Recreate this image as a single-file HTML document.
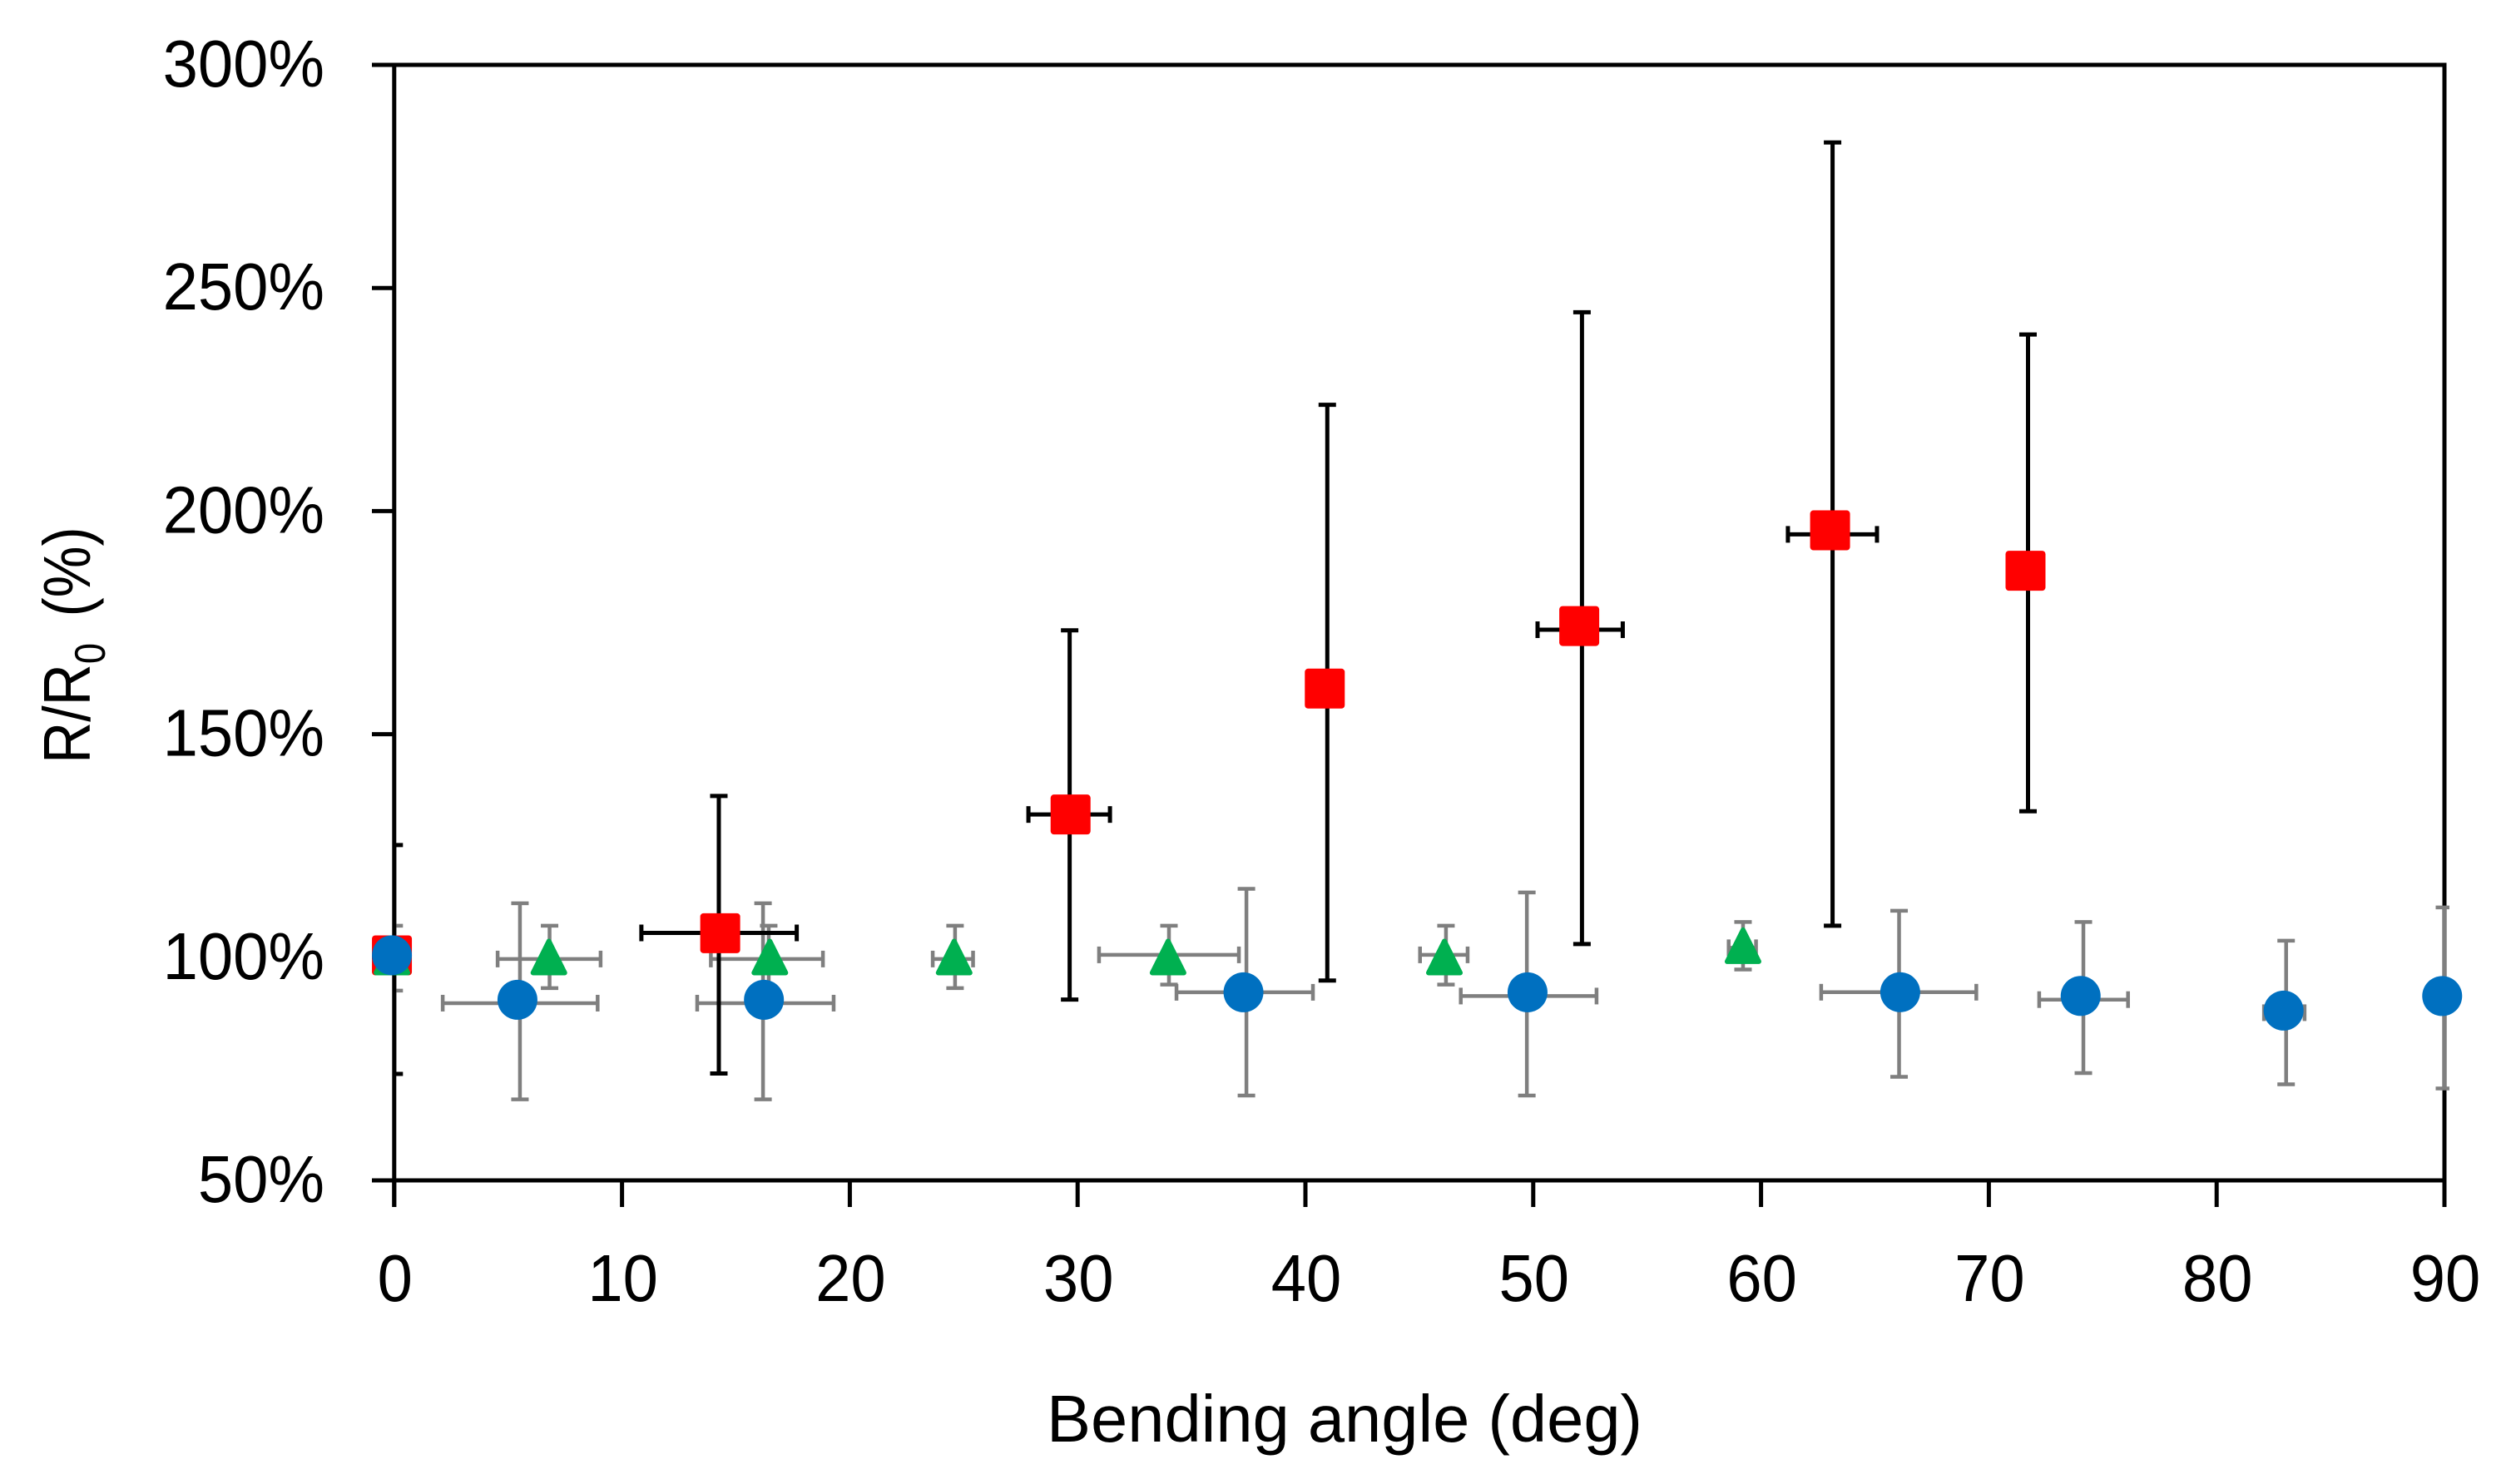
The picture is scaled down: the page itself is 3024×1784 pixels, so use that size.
<!DOCTYPE html>
<html lang="en">
<head>
<meta charset="utf-8">
<title>R/R0 vs bending angle</title>
<style>
html,body{margin:0;padding:0;background:#fff;width:3024px;height:1784px;overflow:hidden}
svg{display:block}
text{font-family:"Liberation Sans",sans-serif;fill:#000}
</style>
</head>
<body>
<svg id="chart" xmlns="http://www.w3.org/2000/svg" width="3024" height="1784" viewBox="0 0 3024 1784">
  <rect x="0" y="0" width="3024" height="1784" fill="#fff"/>
  <defs>
    <clipPath id="plot-clip"><rect x="472" y="0" width="2472" height="1784"/></clipPath>
  </defs>
  <g id="axes"></g>
  <g id="errors" clip-path="url(#plot-clip)"></g>
  <g id="markers"></g>
  <text x="1258" y="1733" font-size="80" textLength="716" lengthAdjust="spacingAndGlyphs">Bending angle (deg)</text>
  <text transform="translate(108,918) rotate(-90) scale(.87,1)" font-size="80">R/R<tspan font-size="52" dy="18">0</tspan><tspan dy="-18" dx="14"> (%)</tspan></text>
</svg>
<script>
// Tick values
const xTicks = [0, 10, 20, 30, 40, 50, 60, 70, 80, 90];
const yTicks = [50, 100, 150, 200, 250, 300];

// Series 1: red squares
const redX      = [-0.10, 14.31, 29.69, 40.85, 52.02, 63.03, 71.61];
const redY      = [100.43, 105.39, 132.00, 160.22, 174.24, 195.69, 186.63];
const redBarX   = [0, 14.25, 29.65, 40.96, 52.14, 63.14, 71.72];
const redBarY   = [100.43, 105.46, 132.00, 160.22, 173.41, 194.78, 186.63];
const redXLow   = [-0.3, 10.85, 27.84, 40.5, 50.19, 61.18, 71.2];
const redXHigh  = [0.3, 17.67, 31.42, 41.4, 53.93, 65.09, 72.2];
const redYLow   = [73.87, 73.95, 90.53, 94.80, 102.97, 107.07, 132.73];
const redYHigh  = [125.16, 136.16, 173.27, 223.81, 244.57, 282.62, 239.58];

// Series 2: green triangles
const greenX     = [-0.10, 6.79, 16.49, 24.58, 33.97, 46.10, 59.21];
const greenY     = [100.06, 100.06, 100.06, 100.06, 100.06, 100.06, 102.59];
const greenBarX  = [0, 6.82, 16.44, 24.62, 34.01, 46.17, 59.21];
const greenBarY  = [99.61, 99.61, 99.61, 99.61, 100.54, 100.54, 102.13];
const greenXLow  = [-0.3, 4.54, 13.90, 23.64, 30.94, 45.03, 58.58];
const greenXHigh = [0.3, 9.06, 18.82, 25.41, 37.08, 47.12, 59.78];
const greenYLow  = [92.52, 93.08, 93.08, 93.08, 93.88, 93.88, 97.26];
const greenYHigh = [107.07, 107.07, 107.07, 107.07, 107.07, 107.07, 107.91];

// Series 3: blue circles
const blueX     = [-0.10, 5.41, 16.23, 37.28, 49.75, 66.11, 74.03, 82.94, 89.90];
const blueY     = [100.45, 90.47, 90.47, 92.15, 92.15, 92.17, 91.33, 88.05, 91.31];
const blueBarX  = [0, 5.52, 16.19, 37.41, 49.72, 66.06, 74.15, 83.05, 90];
const blueBarY  = [100.45, 89.72, 89.72, 92.15, 91.31, 92.17, 90.51, 87.58, 90.47];
const blueXLow  = [-0.3, 2.13, 13.30, 34.34, 46.82, 62.64, 72.21, 82.08, 89.7];
const blueXHigh = [0.3, 8.93, 19.29, 40.33, 52.78, 69.45, 76.11, 83.86, 90.3];
const blueYLow  = [97, 68.16, 68.16, 69.02, 69.02, 73.20, 74.06, 71.54, 70.61];
const blueYHigh = [103, 112.10, 112.10, 115.35, 114.53, 110.42, 107.91, 103.71, 111.17];

const SVG_NS = 'http://www.w3.org/2000/svg';
const plot = {left: 473.8, right: 2938, top: 78, bottom: 1419};
const xMin = 0, xMax = 90, yMin = 50, yMax = 300;

function xScale(v) { return plot.left + (v - xMin) / (xMax - xMin) * (plot.right - plot.left); }
function yScale(v) { return plot.bottom - (v - yMin) / (yMax - yMin) * (plot.bottom - plot.top); }

function make(tag, parent, attrs) {
  const el = document.createElementNS(SVG_NS, tag);
  for (const k in attrs) el.setAttribute(k, attrs[k]);
  parent.appendChild(el);
  return el;
}
function seg(parent, x1, y1, x2, y2, color, w) {
  return make('line', parent, {x1: x1, y1: y1, x2: x2, y2: y2, stroke: color, 'stroke-width': w});
}

const axes = document.getElementById('axes');
const errors = document.getElementById('errors');
const markers = document.getElementById('markers');
const AXIS_W = 5, TICK_LEFT = 447, TICK_BOTTOM = 1451;

// Frame
let frameTop = seg(axes, TICK_LEFT, plot.top, plot.right + 2.5, plot.top, '#000', AXIS_W);


let frameBottom = seg(axes, TICK_LEFT, plot.bottom, plot.right + 2.5, plot.bottom, '#000', AXIS_W);


let frameLeft = seg(axes, plot.left, plot.top - 2.5, plot.left, TICK_BOTTOM, '#000', AXIS_W);


let frameRight = seg(axes, plot.right, plot.top - 2.5, plot.right, TICK_BOTTOM, '#000', AXIS_W);



// X ticks and labels
xTicks.forEach(function (t) {
  const px = xScale(t);
  const tick = seg(axes, px, plot.bottom, px, TICK_BOTTOM, '#000', AXIS_W);
  
  
  const label = make('text', axes, {
    transform: 'translate(' + (px + 1) + ',1564) scale(.95,1)',
    'font-size': 80,
    'text-anchor': 'middle'
  });
  label.textContent = String(t);
  
  
});

// Y ticks and labels
yTicks.forEach(function (t) {
  const py = yScale(t);
  const tick = seg(axes, TICK_LEFT, py, plot.left, py, '#000', AXIS_W);
  
  
  const label = make('text', axes, {
    transform: 'translate(390,' + (py + 26) + ') scale(.95,1)',
    'font-size': 80,
    'text-anchor': 'end'
  });
  label.textContent = t + '%';
  
  
});

function drawErrors(name, color, width, barX, barY, xLow, xHigh, yLow, yHigh) {
  const capV = 20, capH = 21;
  barX.forEach(function (bx, i) {
    const g = make('g', errors, {});
    
    
    const cx = xScale(bx), cy = yScale(barY[i]);
    const x0 = xScale(xLow[i]), x1 = xScale(xHigh[i]);
    const y0 = yScale(yLow[i]), y1 = yScale(yHigh[i]);
    seg(g, cx, y0, cx, y1, color, width);
    seg(g, cx - capH / 2, y0, cx + capH / 2, y0, color, width);
    seg(g, cx - capH / 2, y1, cx + capH / 2, y1, color, width);
    seg(g, x0, cy, x1, cy, color, width);
    seg(g, x0, cy - capV / 2, x0, cy + capV / 2, color, width);
    seg(g, x1, cy - capV / 2, x1, cy + capV / 2, color, width);
  });
}

drawErrors('blue', '#7f7f7f', 4.5, blueBarX, blueBarY, blueXLow, blueXHigh, blueYLow, blueYHigh);
drawErrors('green', '#7f7f7f', 4.5, greenBarX, greenBarY, greenXLow, greenXHigh, greenYLow, greenYHigh);
drawErrors('red', '#000', 5, redBarX, redBarY, redXLow, redXHigh, redYLow, redYHigh);

// Markers: red, then green, then blue on top
redX.forEach(function (v, i) {
  const cx = xScale(v), cy = yScale(redY[i]);
  const m = make('rect', markers, {x: cx - 24, y: cy - 24, width: 48, height: 48, rx: 4, ry: 4, fill: '#ff0000'});
  
  
});
greenX.forEach(function (v, i) {
  const cx = xScale(v), cy = yScale(greenY[i]);
  const pts = cx + ',' + (cy - 19) + ' ' + (cx - 19) + ',' + (cy + 19) + ' ' + (cx + 19) + ',' + (cy + 19);
  const m = make('polygon', markers, {points: pts, fill: '#00b050', stroke: '#00b050', 'stroke-width': 6, 'stroke-linejoin': 'round'});
  
  
});
blueX.forEach(function (v, i) {
  const cx = xScale(v), cy = yScale(blueY[i]);
  const m = make('circle', markers, {cx: cx, cy: cy, r: 24, fill: '#0070c0'});
  
  
});
</script>
</body>
</html>
